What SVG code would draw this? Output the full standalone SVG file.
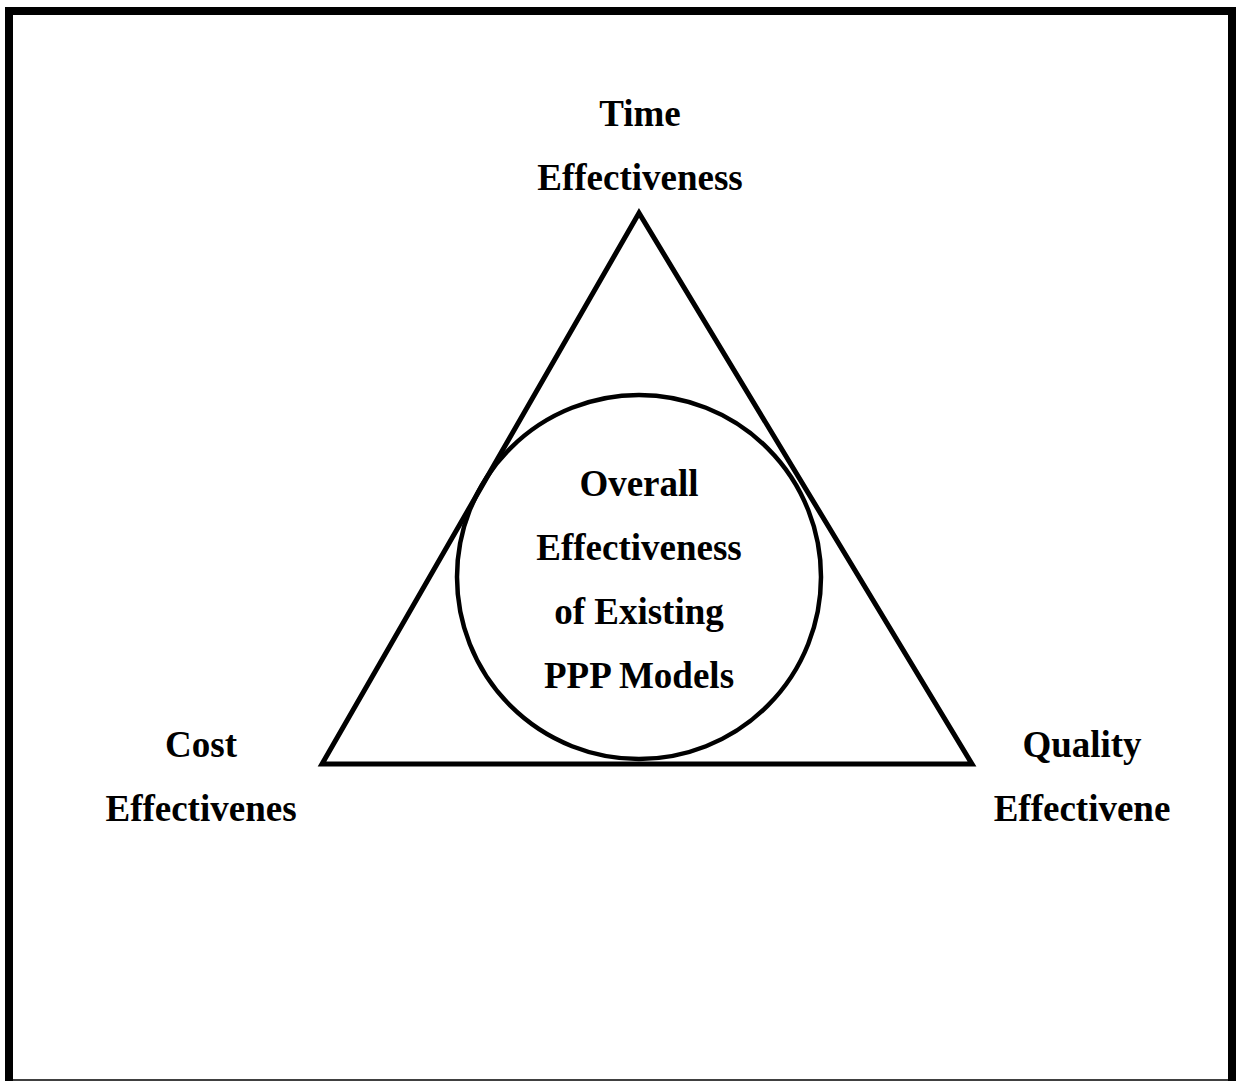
<svg xmlns="http://www.w3.org/2000/svg" width="1237" height="1081" viewBox="0 0 1237 1081">
<style>
.lbl{font-family:"Liberation Serif","Times New Roman",serif;font-weight:bold;font-size:37px;fill:#000;text-anchor:middle}
.shape{fill:none;stroke:#000}
</style>
<rect width="1237" height="1081" fill="#fff"/>
<g id="frame">
<path class="shape" d="M9,1081 V11 H1232 V1081" stroke-width="8"/>
<line x1="5" y1="1080" x2="1236" y2="1080" stroke="#000" stroke-width="1.5"/>
</g>
<g id="connectors">
<polygon id="triangle" class="shape" points="639,213 322,764 972,764" stroke-width="5" stroke-linejoin="miter"/>
</g>
<g id="node-overall">
<circle class="shape" cx="639" cy="577" r="182" stroke-width="4.5"/>
<text class="lbl" x="639" y="496">Overall</text>
<text class="lbl" x="639" y="560">Effectiveness</text>
<text class="lbl" x="639" y="624">of Existing</text>
<text class="lbl" x="639" y="688">PPP Models</text>
</g>
<g id="node-time">
<text class="lbl" x="640" y="126">Time</text>
<text class="lbl" x="640" y="190">Effectiveness</text>
</g>
<g id="node-cost">
<text class="lbl" x="201" y="757">Cost</text>
<text class="lbl" x="201" y="821">Effectivenes</text>
</g>
<g id="node-quality">
<text class="lbl" x="1082" y="757">Quality</text>
<text class="lbl" x="1082" y="821">Effectivene</text>
</g>
</svg>
